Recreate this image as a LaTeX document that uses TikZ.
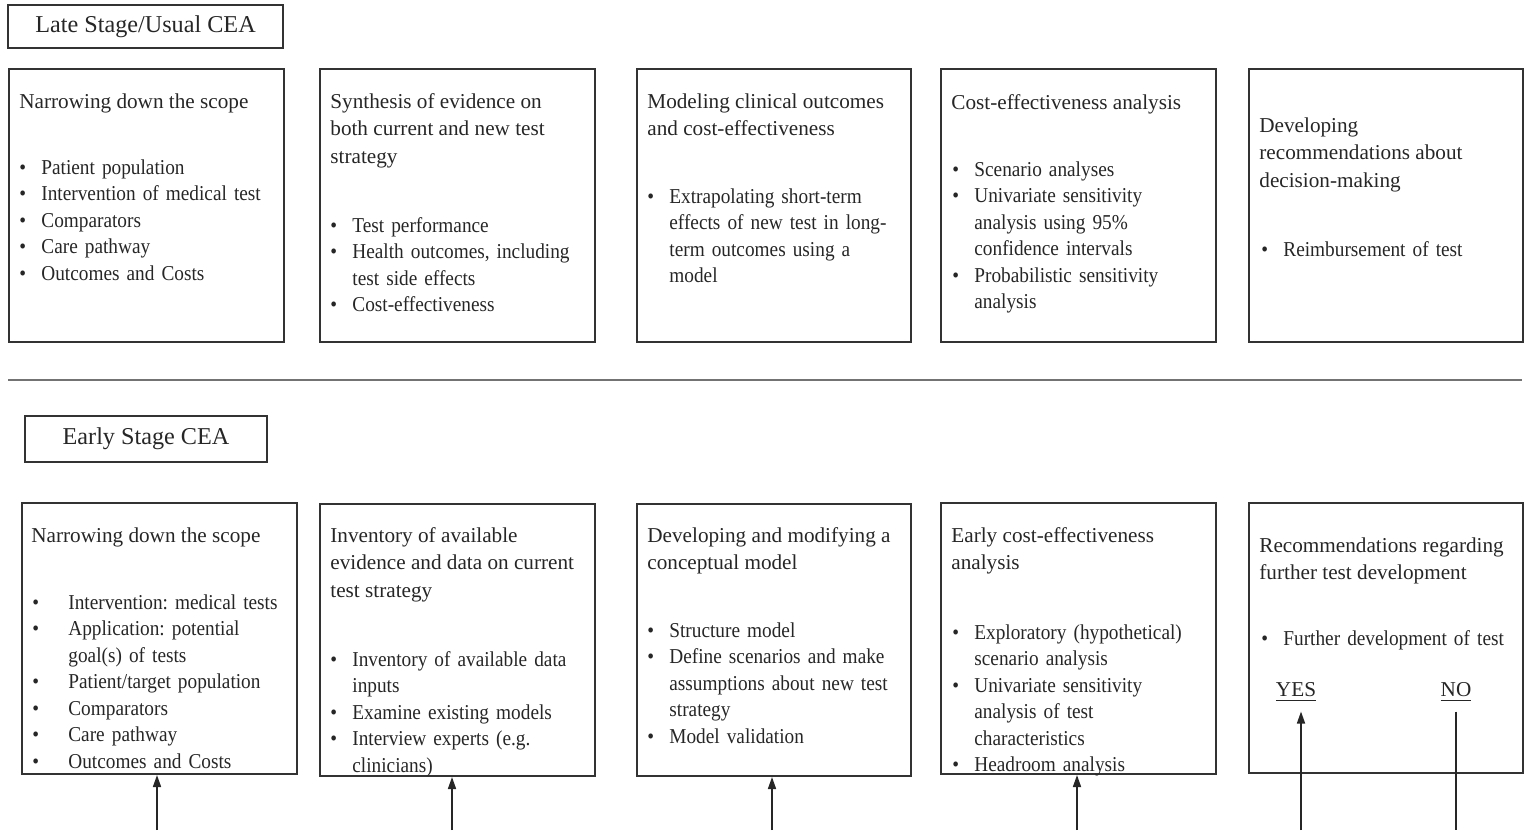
\documentclass[tikz,border=0pt]{standalone}
\usepackage{fontspec}
\setmainfont{Liberation Serif}
\newfontfamily\bulfont[FakeStretch=0.91]{Liberation Serif}
\usetikzlibrary{arrows.meta}
\newcommand\bitem[2][11pt]{\noindent\hangindent=#1\hangafter=1\makebox[#1][l]{\textbullet}#2\par}
\tikzset{
  box/.style={draw=black!80, line width=1pt, inner sep=0pt, anchor=north west},
  titlebox/.style={draw=black!80, line width=1pt, inner sep=0pt, font=\fontsize{12.1}{14}\selectfont, text=black!85},
  head/.style={anchor=north west, inner sep=0pt, align=left, font=\fontsize{10.6}{13.8}\selectfont, text=black!85},
  blist/.style={anchor=north west, inner sep=0pt, text width=#1, align=left, font=\bulfont\fontsize{10.6}{13.25}\selectfont\frenchspacing, text=black!85},
  blist/.default=135pt,
  yn/.style={inner sep=5pt, font=\fontsize{10.6}{13}\selectfont, text=black!85},
  arr/.style={line width=0.8pt, draw=black!85, -{Triangle[length=6pt,width=4pt]}},
  plain/.style={line width=0.8pt, draw=black!85}
}
\begin{document}
\begin{tikzpicture}[x=0.5pt,y=-0.5pt]
\useasboundingbox (0,0) rectangle (1525,830);
% ---------- Late stage ----------
\node[titlebox, minimum width=137.5pt, minimum height=21.5pt] (lt) at (145.5,26.5) {\raisebox{-1.5pt}{Late Stage/Usual CEA}};
\node[box, minimum width=137.5pt, minimum height=136.5pt] (t1) at (8,68) {};
\node[box, minimum width=137.5pt, minimum height=136.5pt] (t2) at (319,68) {};
\node[box, minimum width=137pt, minimum height=136.5pt] (t3) at (636,68) {};
\node[box, minimum width=137.5pt, minimum height=136.5pt] (t4) at (940,68) {};
\node[box, minimum width=137pt, minimum height=136.5pt] (t5) at (1248,68) {};

\node[head] (t1h) at (19,93) {Narrowing down the scope};
\node[blist] (t1l) at (19,159) {\bitem{Patient population}\bitem{Intervention of medical test}\bitem{Comparators}\bitem{Care pathway}\bitem{Outcomes and Costs}};

\node[head] (t2h) at (330,93) {Synthesis of evidence on\\both current and new test\\strategy};
\node[blist] (t2l) at (330,217) {\bitem{Test performance}\bitem{Health outcomes, including\newline test side effects}\bitem{Cost-effectiveness}};

\node[head] (t3h) at (647,93) {Modeling clinical outcomes\\and cost-effectiveness};
\node[blist] (t3l) at (647,188) {\bitem{Extrapolating short-term\newline effects of new test in long-\newline term outcomes using a\newline model}};

\node[head] (t4h) at (951,94) {Cost-effectiveness analysis};
\node[blist] (t4l) at (952,161) {\bitem{Scenario analyses}\bitem{Univariate sensitivity\newline analysis using 95\%\newline confidence intervals}\bitem{Probabilistic sensitivity\newline analysis}};

\node[head] (t5h) at (1259,117) {Developing\\recommendations about\\decision-making};
\node[blist] (t5l) at (1261,241) {\bitem{Reimbursement of test}};

% ---------- separator ----------
\draw[line width=1.1pt, draw=black!55] (8,380) -- (1522,380);

% ---------- Early stage ----------
\node[titlebox, minimum width=121pt, minimum height=23pt] (et) at (146,439) {\raisebox{-1.5pt}{Early Stage CEA}};
\node[box, minimum width=137.5pt, minimum height=135.5pt] (b1) at (21,502) {};
\node[box, minimum width=137.5pt, minimum height=136pt] (b2) at (319,503) {};
\node[box, minimum width=137pt, minimum height=136pt] (b3) at (636,503) {};
\node[box, minimum width=137.5pt, minimum height=135.5pt] (b4) at (940,502) {};
\node[box, minimum width=137pt, minimum height=135pt] (b5) at (1248,502) {};

\node[head] (b1h) at (31,527) {Narrowing down the scope};
\node[blist] (b1l) at (32,594) {\bitem[18pt]{Intervention: medical tests}\bitem[18pt]{Application: potential\newline goal(s) of tests}\bitem[18pt]{Patient/target population}\bitem[18pt]{Comparators}\bitem[18pt]{Care pathway}\bitem[18pt]{Outcomes and Costs}};

\node[head] (b2h) at (330,527) {Inventory of available\\evidence and data on current\\test strategy};
\node[blist] (b2l) at (330,651) {\bitem{Inventory of available data\newline inputs}\bitem{Examine existing models}\bitem{Interview experts (e.g.\newline clinicians)}};

\node[head] (b3h) at (647,527) {Developing and modifying a\\conceptual model};
\node[blist] (b3l) at (647,622) {\bitem{Structure model}\bitem{Define scenarios and make\newline assumptions about new test\newline strategy}\bitem{Model validation}};

\node[head] (b4h) at (951,527) {Early cost-effectiveness\\analysis};
\node[blist] (b4l) at (952,624) {\bitem{Exploratory (hypothetical)\newline scenario analysis}\bitem{Univariate sensitivity\newline analysis of test\newline characteristics}\bitem{Headroom analysis}};

\node[head] (b5h) at (1259,537) {Recommendations regarding\\further test development};
\node[blist] (b5l) at (1261,630) {\bitem{Further development of test}};
\node[yn] (yes) at (1296,692) {\underline{YES}};
\node[yn] (no) at (1456,692) {\underline{NO}};

% ---------- connectors ----------
\coordinate (a1) at (157,830);
\coordinate (a2) at (452,830);
\coordinate (a3) at (772,830);
\coordinate (a4) at (1077,830);
\coordinate (ay) at (1301,830);
\coordinate (an) at (1456,830);
\draw[arr] (a1) -- (a1 |- b1.south);
\draw[arr] (a2) -- (a2 |- b2.south);
\draw[arr] (a3) -- (a3 |- b3.south);
\draw[arr] (a4) -- (a4 |- b4.south);
\draw[arr] (ay) -- (ay |- yes.south);
\draw[plain] (an |- no.south) -- (an);
\end{tikzpicture}
\end{document}
